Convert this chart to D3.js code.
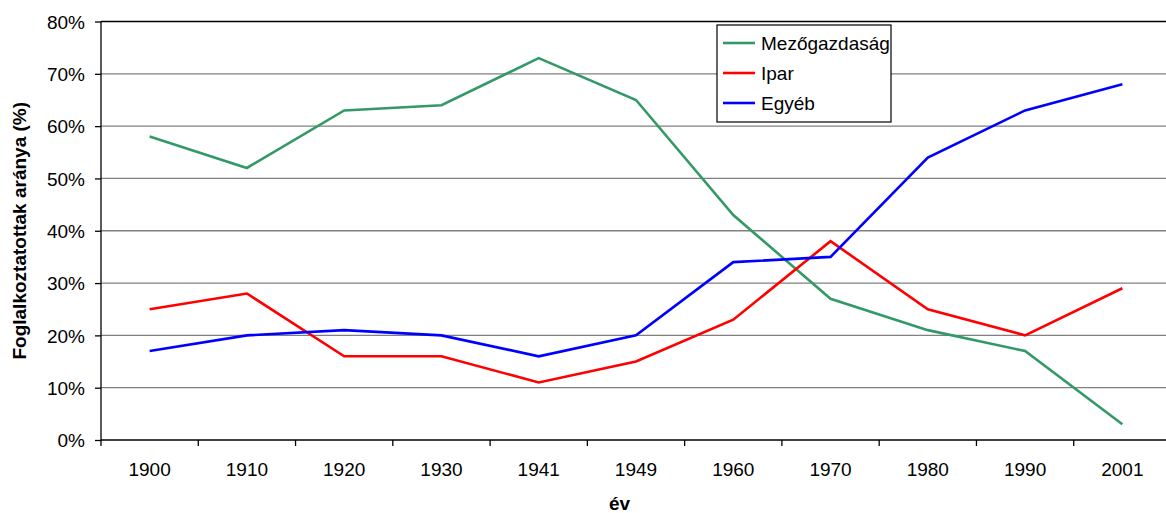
<!DOCTYPE html>
<html>
<head>
<meta charset="utf-8">
<script src="https://cdn.jsdelivr.net/npm/d3@7"></script>
<style>
  body { margin: 0; background: #fff; }
  svg { display: block; font-family: Arial, "Liberation Sans", sans-serif; }
</style>
</head>
<body>
<svg width="1166" height="513"></svg>
<script>
// data
const years = ['1900', '1910', '1920', '1930', '1941', '1949', '1960', '1970', '1980', '1990', '2001']
const mezogazdasag = [58, 52, 63, 64, 73, 65, 43, 27, 21, 17, 3]
const ipar = [25, 28, 16, 16, 11, 15, 23, 38, 25, 20, 29]
const egyeb = [17, 20, 21, 20, 16, 20, 34, 35, 54, 63, 68]
const seriesNames = ['Mezőgazdaság', 'Ipar', 'Egyéb']
const yTicks = [0, 10, 20, 30, 40, 50, 60, 70, 80]

const colors = ['#339966', '#ff0000', '#0000ff']
const series = [mezogazdasag, ipar, egyeb].map((vals, i) => ({
    name: seriesNames[i],
    color: colors[i],
    values: vals.map((v, j) => ({ year: years[j], v: v }))
}))

const svg = d3.select('svg'),
    plotLeft = 101,
    plotRight = 1171,   // plot runs a bit past the picture edge
    plotTop = 21.5,
    plotBottom = 440

const x = d3.scaleBand()
    .domain(years)
    .range([plotLeft, plotRight])
const y = d3.scaleLinear()
    .domain([0, 80])
    .range([plotBottom, plotTop])

// gridlines
svg.append('g')
    .selectAll('line')
    .data(yTicks.filter((d) => d > 0))
    .enter().append('line')
    .attr('x1', plotLeft)
    .attr('x2', plotRight)
    .attr('y1', (d) => y(d))
    .attr('y2', (d) => y(d))
    .style('stroke', (d) => d === 80 ? '#000' : '#808080')
    .style('stroke-width', 1.3)

// y axis
const yAxis = svg.append('g')
    .attr('transform', 'translate(' + plotLeft + ',0)')
    .call(d3.axisLeft(y).tickValues(yTicks).tickSize(6).tickPadding(10)
        .tickFormat((d) => d + '%'))
yAxis.select('.domain').attr('d', 'M0,' + plotTop + 'V' + plotBottom).style('stroke-width', 1.3)
yAxis.selectAll('.tick line').style('stroke-width', 1.3)
yAxis.selectAll('text').style('font-size', '19px').attr('dy', '0.35em').style('fill', '#000')

// x axis - ticks sit between the categories
const xAxis = svg.append('g')
    .attr('transform', 'translate(0,' + plotBottom + ')')
xAxis.append('line')
    .attr('x1', plotLeft).attr('x2', plotRight)
    .style('stroke', '#000').style('stroke-width', 1.3)
xAxis.selectAll('.tk')
    .data(years)
    .enter().append('line')
    .attr('x1', (d) => x(d))
    .attr('x2', (d) => x(d))
    .attr('y1', 0).attr('y2', 6)
    .style('stroke', '#000').style('stroke-width', 1.3)
xAxis.selectAll('.lbl')
    .data(years)
    .enter().append('text')
    .attr('x', (d) => x(d) + x.bandwidth() / 2)
    .attr('y', 36)
    .attr('text-anchor', 'middle')
    .style('font-size', '19px')
    .text((d) => d)

// axis titles
svg.append('text')
    .attr('x', (plotLeft + 1166) / 2 - 14)
    .attr('y', 510)
    .attr('text-anchor', 'middle')
    .style('font-size', '19px')
    .style('font-weight', 'bold')
    .text('év')
svg.append('text')
    .attr('transform', 'translate(26,' + (plotTop + plotBottom) / 2 + ')rotate(-90)')
    .attr('text-anchor', 'middle')
    .style('font-size', '19px')
    .style('font-weight', 'bold')
    .text('Foglalkoztatottak aránya (%)')

// lines
const line = d3.line()
    .x((d) => x(d.year) + x.bandwidth() / 2)
    .y((d) => y(d.v))

svg.selectAll('.series')
    .data(series)
    .enter().append('path')
    .attr('d', (d) => line(d.values))
    .style('fill', 'none')
    .style('stroke', (d) => d.color)
    .style('stroke-width', 2.6)

// legend
const legend = svg.append('g').attr('transform', 'translate(717,25)')
legend.append('rect')
    .attr('width', 174).attr('height', 97)
    .style('fill', '#fff').style('stroke', '#000').style('stroke-width', 1.2)
const item = legend.selectAll('.item')
    .data(series)
    .enter().append('g')
    .attr('transform', (d, i) => 'translate(0,' + (18 + i * 30) + ')')
item.append('line')
    .attr('x1', 6).attr('x2', 38)
    .style('stroke', (d) => d.color)
    .style('stroke-width', 2.6)
item.append('text')
    .attr('x', 44)
    .attr('dy', '0.35em')
    .style('font-size', '19px')
    .text((d) => d.name)
</script>
</body>
</html>
